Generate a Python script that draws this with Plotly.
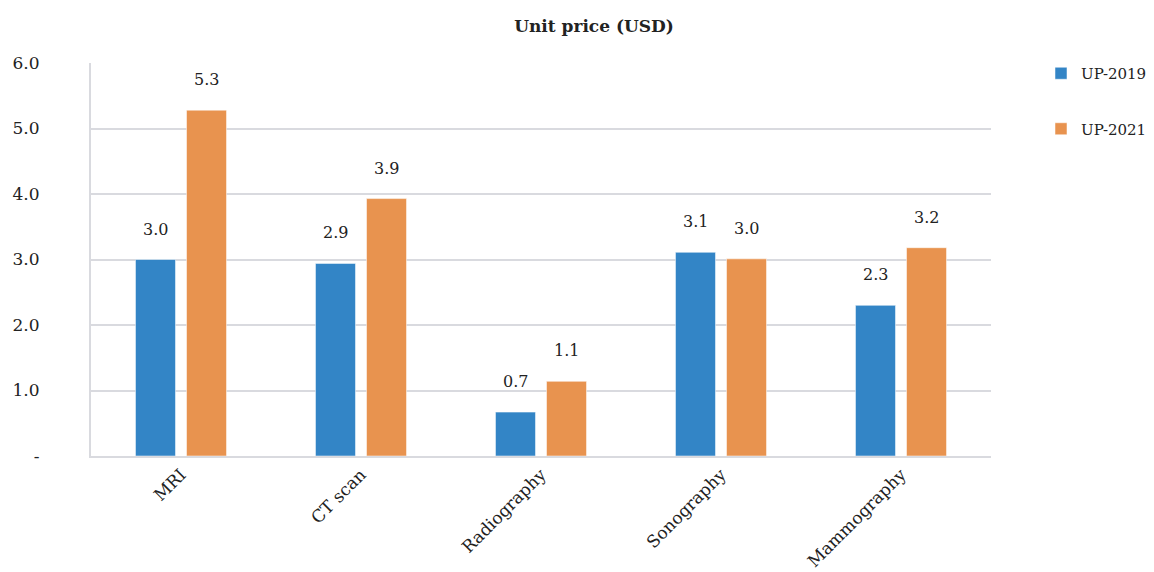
import plotly.graph_objects as go

# Unit price (USD) by imaging modality, 2019 vs 2021
categories = ["MRI", "CT scan", "Radiography", "Sonography", "Mammography"]
up_2019 = [3.00, 2.94, 0.67, 3.11, 2.30]
up_2021 = [5.28, 3.93, 1.14, 3.01, 3.18]
series_names = ["UP-2019", "UP-2021"]
y_tick_vals = [0, 1, 2, 3, 4, 5, 6]
y_tick_text = ["-", "1.0", "2.0", "3.0", "4.0", "5.0", "6.0"]

colors = ["#3385C6", "#E8934F"]
FONT = "DejaVu Serif"
TEXT_COLOR = "#222222"
GRID = "#D9DADF"

fig = go.Figure()
for i, (name, vals) in enumerate(zip(series_names, [up_2019, up_2021])):
    fig.add_trace(go.Bar(
        x=categories, y=vals, name=name,
        marker=dict(color=colors[i], line=dict(color="rgba(255,255,255,0.5)", width=1)),
        legendgroup=name,
    ))

# value labels above each bar, offset to each bar in the group
offsets = [-25.5, 25.5]
for i, vals in enumerate([up_2019, up_2021]):
    for c, v in zip(categories, vals):
        fig.add_annotation(
            x=c, y=v, xref="x", yref="y", text=f"{v:.1f}",
            showarrow=False, xshift=offsets[i], yshift=19, yanchor="bottom",
            font=dict(family=FONT, size=16, color=TEXT_COLOR),
        )

fig.update_layout(
    width=1154, height=572,
    margin=dict(l=91, r=163, t=63, b=116, autoexpand=False),
    paper_bgcolor="white", plot_bgcolor="white",
    barmode="group", bargap=0.433, bargroupgap=0.216,
    title=dict(text="<b>Unit price (USD)</b>", x=594 / 1154, xanchor="center",
               y=1 - 26 / 572, yanchor="middle",
               font=dict(family=FONT, size=17, color=TEXT_COLOR)),
    legend=dict(x=(1041 - 91) / 900, xanchor="left", y=1 + 6 / 393, yanchor="top",
                font=dict(family=FONT, size=15, color=TEXT_COLOR),
                traceorder="grouped", tracegroupgap=33, itemwidth=30),
    font=dict(family=FONT, color=TEXT_COLOR),
)
fig.update_yaxes(
    range=[0, 6], tickvals=y_tick_vals, ticktext=y_tick_text,
    showgrid=True, gridcolor=GRID, gridwidth=2,
    showline=True, linecolor=GRID, linewidth=2,
    zeroline=False, ticks="", ticklabelstandoff=46, automargin=False,
    tickfont=dict(family=FONT, size=17, color=TEXT_COLOR),
)
fig.update_xaxes(
    showline=True, linecolor=GRID, linewidth=2, tickangle=-45, ticks="",
    automargin=False,
    tickfont=dict(family=FONT, size=17, color=TEXT_COLOR),
)

fig.write_html("out.html")
